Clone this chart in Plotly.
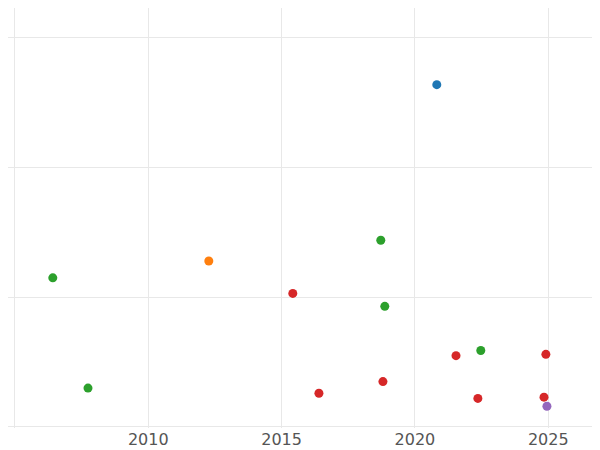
import plotly.graph_objects as go

# values
blue_x = [2020.82]
blue_y = [2.64]
orange_x = [2012.27]
orange_y = [1.28]
green_x = [2006.42, 2018.72, 2018.87, 2007.74, 2022.47]
green_y = [1.15, 1.44, 0.93, 0.30, 0.59]
red_x = [2015.42, 2021.54, 2024.91, 2018.80, 2016.40, 2022.36, 2024.84]
red_y = [1.03, 0.55, 0.56, 0.35, 0.26, 0.22, 0.23]
purple_x = [2024.95]
purple_y = [0.16]

tick_vals = [2005, 2010, 2015, 2020, 2025]
tick_text = ["", "2010", "2015", "2020", "2025"]

series = [
    (blue_x, blue_y, "#1f77b4"),
    (orange_x, orange_y, "#ff7f0e"),
    (green_x, green_y, "#2ca02c"),
    (red_x, red_y, "#d62728"),
    (purple_x, purple_y, "#9467bd"),
]

fig = go.Figure()
for xs, ys, c in series:
    fig.add_trace(go.Scatter(x=xs, y=ys, mode="markers",
                             marker=dict(color=c, size=9), showlegend=False))

fig.update_layout(
    template="plotly_white",
    width=600, height=442,
    margin=dict(l=0, r=0, t=0, b=22),
    font=dict(family="DejaVu Sans", size=16, color="#555"),
)
fig.update_xaxes(range=[2004.74, 2027.24], tickvals=tick_vals, ticktext=tick_text,
                 showgrid=True, gridcolor="#e8e8e8", zeroline=False)
fig.update_yaxes(range=[-0.008, 3.231], dtick=1, showticklabels=False,
                 gridcolor="#e8e8e8", zeroline=False)

fig.write_html("out.html")
